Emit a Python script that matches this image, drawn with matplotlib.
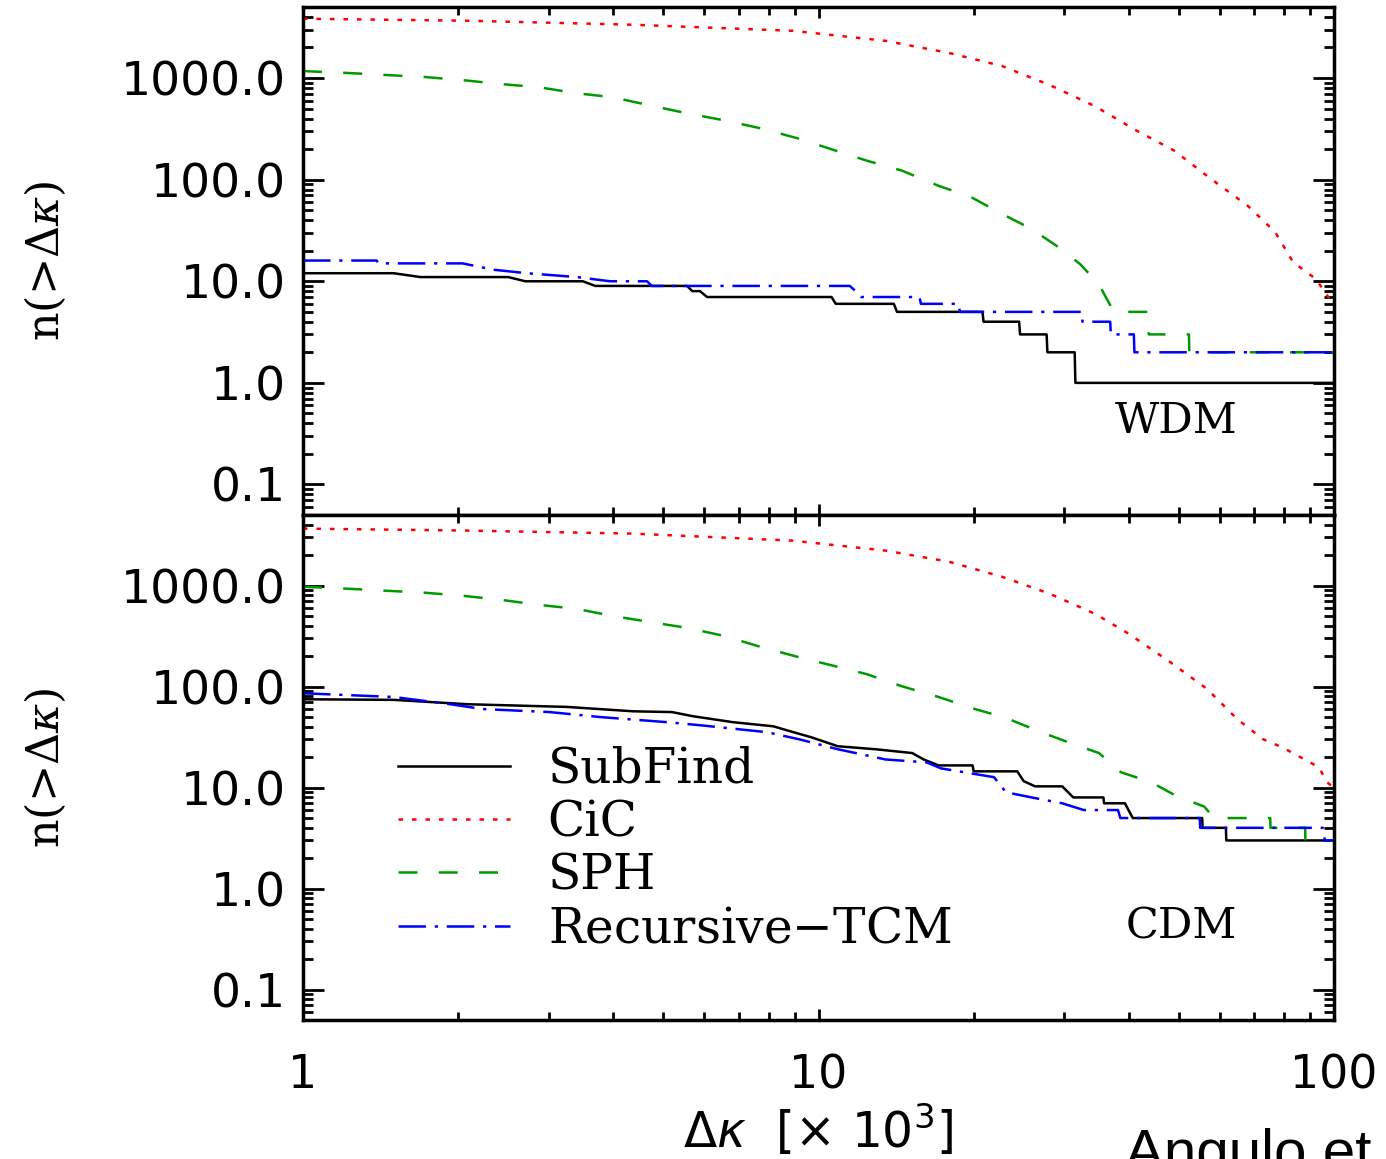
import matplotlib
matplotlib.use("Agg")
import matplotlib.pyplot as plt
from matplotlib.ticker import LogLocator, NullFormatter

plt.rcParams['mathtext.fontset'] = 'dejavuserif'

# ---- data: x = delta kappa [x 1e3], y = n(>dk) ----
# WDM panel
wdm_sub_x = [1, 1.50, 1.69, 2.50, 2.70, 3.49, 3.69, 5.56, 5.69, 5.89, 6.08, 10.6, 10.8,
             14.0, 14.2, 20.8, 20.9, 24.5, 24.6, 27.7, 27.8, 31.4, 31.5, 100]
wdm_sub_y = [12, 12, 11, 11, 10, 10, 9, 9, 8, 8, 7, 7, 6, 6, 5, 5, 4, 4, 3, 3, 2, 2, 1, 1]

wdm_cic_x = [1, 2.08, 4.37, 8.92, 13.5, 17.9, 22.7, 28.1, 34.4, 41.3, 48.9, 57.7, 68.1,
             76.9, 83.3, 92.3, 95.2, 99.1, 100]
wdm_cic_y = [3840, 3670, 3350, 2920, 2325, 1770, 1315, 853, 528, 306, 194, 102, 55,
             30.5, 15.4, 10.5, 8.3, 6.2, 5.8]

wdm_sph_x = [1, 1.23, 1.46, 1.73, 2.04, 2.42, 2.86, 3.39, 3.98, 4.69, 5.56, 6.56, 7.73,
             9.12, 12.4, 14.5, 17.1, 19.7, 22.7, 25.9, 29.2, 32.2, 35.0, 37.4, 43.6,
             43.7, 52.3, 52.4, 100]
wdm_sph_y = [1173, 1120, 1070, 1023, 955, 873, 815, 710, 649, 541, 450, 384, 320,
             255, 154, 123, 87, 68, 46, 32.7, 21.7, 14.7, 9.3, 5, 5,
             3, 3, 2, 2]

wdm_tcm_x = [1, 1.39, 1.40, 2.04, 2.34, 2.72, 3.40, 3.94, 4.65, 4.75, 11.5, 11.8, 12.1,
             15.7, 15.8, 18.7, 18.8, 32.4, 32.5, 36.8, 36.9, 40.9, 41.0, 100]
wdm_tcm_y = [16, 16, 15, 15, 13, 12, 11, 10, 10, 9, 9, 8, 7,
             7, 6, 6, 5, 5, 4, 4, 3, 3, 2, 2]

# CDM panel
cdm_sub_x = [1, 1.50, 2.08, 3.25, 4.37, 5.2, 5.7, 6.82, 8.17, 8.94, 9.67, 10.9, 12.9,
             15.2, 16.0, 17.1, 19.9, 20.0, 24.3, 25.0, 26.3, 29.7, 31.2, 35.7, 35.8,
             39.3, 40.7, 55.5, 55.6, 61.7, 61.8, 100]
cdm_sub_y = [75, 74, 67, 63, 57, 56, 51, 44.5, 40.5, 35.4, 31.6, 25.7, 24,
             22, 19, 16.6, 16.6, 14.5, 14.5, 11.6, 10.3, 10.3, 8, 8, 7,
             7, 5, 5, 4, 4, 3, 3]

cdm_cic_x = [1, 2.08, 4.37, 8.92, 13.5, 17.9, 22.7, 28.1, 34.4, 40.0, 48.1, 56.7, 64.9,
             72.8, 79.3, 89.1, 93.5, 96.9, 100]
cdm_cic_y = [3673, 3510, 3275, 2790, 2222, 1727, 1225, 831, 526, 333, 175, 95, 47.7,
             30.2, 25.1, 18.2, 15.9, 11.3, 10]

cdm_sph_x = [1, 1.23, 1.46, 1.73, 2.04, 2.42, 2.86, 3.39, 3.98, 4.69, 5.56, 6.56, 7.73,
             9.12, 10.9, 12.4, 14.5, 17.1, 19.9, 23.1, 26.8, 30.6, 35.0, 38.6, 44.2,
             49.6, 56.0, 58.5, 75.2, 75.3, 87.9, 88.0, 100]
cdm_sph_y = [975, 931, 889, 850, 794, 724, 646, 590, 502, 438, 382, 318, 247,
             197, 157, 133, 101, 79, 61, 49, 36, 28, 22, 14.2, 11.3,
             8.2, 6.5, 5, 5, 4, 4, 3, 3]

cdm_tcm_x = [1, 1.50, 1.93, 2.23, 3.01, 3.77, 5.08, 5.89, 7.95, 9.2, 10.9, 13.5, 16.2,
             17.3, 19.5, 21.9, 23.1, 25.9, 29.7, 32.7, 38.1, 38.5, 54.9, 55.0, 95.2,
             96.0, 100]
cdm_tcm_y = [86, 79, 67, 60, 56, 50, 44.5, 41.5, 35.4, 30, 24, 19, 17.8,
             15.5, 14, 12.7, 9, 8, 7, 6, 6, 5, 5, 4, 4,
             3, 3]

labels = ['SubFind', 'CiC', 'SPH', 'Recursive$-$TCM']
yticks = [0.1, 1, 10, 100, 1000]
ytick_labels = ['0.1', '1.0', '10.0', '100.0', '1000.0']

fig = plt.figure(figsize=(13.86, 11.59), dpi=100)
ax1 = fig.add_axes([0.2186, 0.5556, 0.7439, 0.4383])
ax2 = fig.add_axes([0.2186, 0.1199, 0.7439, 0.4357])

styles = [dict(color='black', ls='-'),
          dict(color='#ff0000', ls=(0, (1.8, 3.6))),
          dict(color='#009a00', ls=(0, (7.6, 8.5))),
          dict(color='#0000ff', ls=(0, (11, 3.5, 1.3, 3.5)))]

panels = [(ax1, [(wdm_sub_x, wdm_sub_y), (wdm_cic_x, wdm_cic_y),
                 (wdm_sph_x, wdm_sph_y), (wdm_tcm_x, wdm_tcm_y)], 'WDM'),
          (ax2, [(cdm_sub_x, cdm_sub_y), (cdm_cic_x, cdm_cic_y),
                 (cdm_sph_x, cdm_sph_y), (cdm_tcm_x, cdm_tcm_y)], 'CDM')]

for ax, series, name in panels:
    for (x, y), st, lab in zip(series, styles, labels):
        ax.plot(x, y, lw=1.8, label=lab, **st)
    ax.set_xscale('log')
    ax.set_yscale('log')
    ax.set_xlim(1, 100)
    ax.set_ylim(0.05, 5000)
    ax.set_yticks(yticks)
    ax.set_yticklabels(ytick_labels, fontsize=34, family='DejaVu Sans')
    ax.yaxis.set_minor_locator(LogLocator(base=10, subs=range(2, 10), numticks=20))
    ax.yaxis.set_minor_formatter(NullFormatter())
    ax.xaxis.set_minor_locator(LogLocator(base=10, subs=range(2, 10), numticks=20))
    ax.xaxis.set_minor_formatter(NullFormatter())
    ax.tick_params(which='both', direction='in', top=True, right=True)
    ax.tick_params(axis='y', which='major', length=15, width=2, pad=12)
    ax.tick_params(axis='y', which='minor', length=7.5, width=2)
    ax.tick_params(axis='x', which='major', length=8, width=2, pad=24)
    ax.tick_params(axis='x', which='minor', length=6, width=2)
    for sp in ax.spines.values():
        sp.set_linewidth(2.5)
    ax.text(0.906, 0.185, name, transform=ax.transAxes, ha='right', va='center',
            fontsize=31, family='DejaVu Serif')
    fig.text(45 / 1386, 0.5 * (ax.get_position().y0 + ax.get_position().y1),
             r'n(>$\Delta\kappa$)', rotation=90, ha='center', va='center',
             fontsize=32, family='DejaVu Serif')

ax1.set_xticks([1, 10, 100])
ax1.tick_params(axis='x', labelbottom=False)
ax2.set_xticks([1, 10, 100])
ax2.set_xticklabels(['1', '10', '100'], fontsize=33, family='DejaVu Sans')

ax2.legend(loc='center left', bbox_to_anchor=(0.0921, 0.338), frameon=False,
           prop={'family': 'DejaVu Serif', 'size': 35}, handlelength=2.3,
           handletextpad=0.78, labelspacing=0.13, borderpad=0, borderaxespad=0)

fig.text(818 / 1386, 1 - 1130 / 1159, r'$\Delta\kappa$  [$\times$ 10$^3$]',
         ha='center', va='center', fontsize=35, family='DejaVu Sans',
         math_fontfamily='dejavusans')
fig.text(1125 / 1386, 1 - 1170 / 1159, 'Angulo et', ha='left', va='baseline',
         fontsize=42, family='Liberation Sans')

fig.savefig('out.png', dpi=100)
